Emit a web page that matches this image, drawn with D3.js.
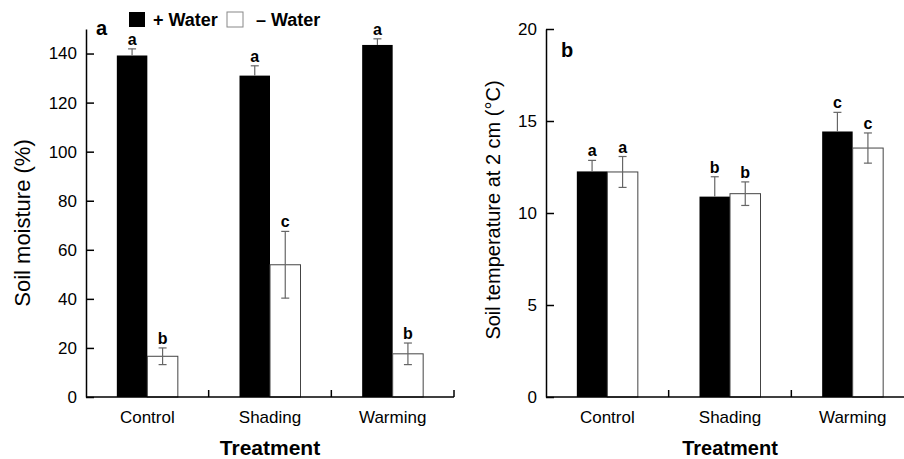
<!DOCTYPE html>
<html>
<head>
<meta charset="utf-8">
<script src="https://cdn.jsdelivr.net/npm/d3@7"></script>
<style>
  body { margin: 0; background: #fff; }
  svg { display: block; font-family: "Liberation Sans", Arial, sans-serif; }
  .axis path, .axis line { stroke: #000; stroke-width: 1.5; }
  .axis text { font-size: 17px; fill: #000; }
</style>
</head>
<body>
<svg class="chart" width="904" height="459"></svg>
<script>
var categories = ["Control", "Shading", "Warming"];
var seriesKeys = ["+ Water", "\u2013 Water"];

// panel a: soil moisture (%)
var moistWet = [139.2, 131, 143.5];
var moistWetSe = [2.7, 4, 2.5];
var moistDry = [16.6, 53.9, 17.6];
var moistDrySe = [3.4, 13.6, 4.4];
var moistWetLetters = ["a", "a", "a"];
var moistDryLetters = ["b", "c", "b"];
var moistTicks = [0, 20, 40, 60, 80, 100, 120, 140];

// panel b: soil temperature at 2 cm
var tempWet = [12.26, 10.89, 14.43];
var tempWetSe = [0.6, 1.08, 1.04];
var tempDry = [12.23, 11.05, 13.53];
var tempDrySe = [0.84, 0.64, 0.82];
var tempWetLetters = ["a", "b", "c"];
var tempDryLetters = ["a", "b", "c"];
var tempTicks = [0, 5, 10, 15, 20];

var svg = d3.select(".chart");
var fills = d3.scaleOrdinal().domain(seriesKeys).range(["#000", "#fff"]);

function drawPanel(opt) {
  var g = svg.append("g");
  var y = d3.scaleLinear().domain([0, opt.ymax]).range([397, 29]);
  var x0 = d3.scaleBand().domain(categories).range([opt.left, opt.left + 368]);
  var bw = x0.bandwidth();
  var x1 = d3.scaleBand().domain(seriesKeys).range([(bw - 61) / 2, (bw + 61) / 2]);

  var rows = categories.map(function (c, i) {
    return [
      { cat: c, key: seriesKeys[0], v: opt.wet[i], se: opt.wetSe[i], l: opt.wetL[i] },
      { cat: c, key: seriesKeys[1], v: opt.dry[i], se: opt.drySe[i], l: opt.dryL[i] }
    ];
  });
  var flat = d3.merge(rows);

  // bars
  g.selectAll("rect.bar")
    .data(flat)
    .enter()
    .append("rect")
    .attr("class", "bar")
    .attr("x", function (d) { return x0(d.cat) + x1(d.key); })
    .attr("width", x1.bandwidth())
    .attr("y", function (d) { return y(d.v); })
    .attr("height", function (d) { return y(0) - y(d.v); })
    .attr("fill", function (d) { return fills(d.key); })
    .attr("stroke", function (d) { return d.key === seriesKeys[0] ? "none" : "#444"; })
    .attr("stroke-width", 1);

  // error bars (lower half hidden inside black bars)
  var eb = g.selectAll("g.err")
    .data(flat)
    .enter()
    .append("g")
    .attr("class", "err")
    .attr("stroke", "#666")
    .attr("stroke-width", 1.2);
  eb.append("line")
    .attr("x1", function (d) { return x0(d.cat) + x1(d.key) + x1.bandwidth() / 2; })
    .attr("x2", function (d) { return x0(d.cat) + x1(d.key) + x1.bandwidth() / 2; })
    .attr("y1", function (d) { return d.key === seriesKeys[0] ? y(d.v) : y(d.v - d.se); })
    .attr("y2", function (d) { return y(d.v + d.se); });
  eb.append("line")
    .attr("x1", function (d) { return x0(d.cat) + x1(d.key) + x1.bandwidth() / 2 - 4; })
    .attr("x2", function (d) { return x0(d.cat) + x1(d.key) + x1.bandwidth() / 2 + 4; })
    .attr("y1", function (d) { return y(d.v + d.se); })
    .attr("y2", function (d) { return y(d.v + d.se); });
  eb.filter(function (d) { return d.key !== seriesKeys[0]; })
    .append("line")
    .attr("x1", function (d) { return x0(d.cat) + x1(d.key) + x1.bandwidth() / 2 - 4; })
    .attr("x2", function (d) { return x0(d.cat) + x1(d.key) + x1.bandwidth() / 2 + 4; })
    .attr("y1", function (d) { return y(d.v - d.se); })
    .attr("y2", function (d) { return y(d.v - d.se); });

  // significance letters
  g.selectAll("text.sig")
    .data(flat)
    .enter()
    .append("text")
    .attr("class", "sig")
    .attr("x", function (d) { return x0(d.cat) + x1(d.key) + x1.bandwidth() / 2; })
    .attr("y", function (d) { return y(d.v + d.se) - 4; })
    .attr("text-anchor", "middle")
    .attr("font-size", 16)
    .attr("font-weight", "bold")
    .text(function (d) { return d.l; });

  // y axis, ticks pointing inward
  g.append("g")
    .attr("class", "axis")
    .attr("transform", "translate(" + opt.left + ",0)")
    .call(d3.axisLeft(y).tickValues(opt.ticks).tickSizeInner(-8).tickSizeOuter(0).tickPadding(9));

  // x axis line with upward ticks at group boundaries
  var xa = g.append("g").attr("class", "axis");
  xa.append("line")
    .attr("x1", opt.left).attr("x2", opt.left + 368)
    .attr("y1", y(0)).attr("y2", y(0));
  xa.selectAll("line.tk")
    .data(categories)
    .enter()
    .append("line")
    .attr("class", "tk")
    .attr("x1", function (d) { return x0(d) + bw; })
    .attr("x2", function (d) { return x0(d) + bw; })
    .attr("y1", y(0)).attr("y2", y(0) - 7);
  xa.selectAll("text")
    .data(categories)
    .enter()
    .append("text")
    .attr("x", function (d) { return x0(d) + bw / 2; })
    .attr("y", 423)
    .attr("text-anchor", "middle")
    .attr("font-size", 19)
    .text(function (d) { return d; });

  g.append("text")
    .attr("x", opt.left + 184)
    .attr("y", 455)
    .attr("text-anchor", "middle")
    .attr("font-size", opt.xtSize)
    .attr("font-weight", "bold")
    .text("Treatment");

  g.append("text")
    .attr("transform", "translate(" + opt.ytX + "," + opt.ytY + ") rotate(-90)")
    .attr("text-anchor", "middle")
    .attr("font-size", opt.ytSize)
    .text(opt.ytitle);

  g.append("text")
    .attr("x", opt.labX)
    .attr("y", opt.labY)
    .attr("font-size", 20)
    .attr("font-weight", "bold")
    .text(opt.label);
}

drawPanel({
  left: 86, ymax: 150, ticks: moistTicks,
  wet: moistWet, wetSe: moistWetSe, dry: moistDry, drySe: moistDrySe,
  wetL: moistWetLetters, dryL: moistDryLetters,
  ytitle: "Soil moisture (%)", ytX: 30, ytY: 223, ytSize: 22,
  xtSize: 21, label: "a", labX: 96, labY: 35
});

drawPanel({
  left: 546, ymax: 20, ticks: tempTicks,
  wet: tempWet, wetSe: tempWetSe, dry: tempDry, drySe: tempDrySe,
  wetL: tempWetLetters, dryL: tempDryLetters,
  ytitle: "Soil temperature at 2 cm (\u00B0C)", ytX: 500, ytY: 210, ytSize: 20,
  xtSize: 20, label: "b", labX: 561, labY: 57
});

// legend
var legend = svg.append("g")
  .attr("font-size", 18)
  .attr("font-weight", "bold")
  .selectAll("g")
  .data(seriesKeys)
  .enter()
  .append("g")
  .attr("transform", function (d, i) { return "translate(" + (129 + i * 98) + ",12)"; });

legend.append("rect")
  .attr("width", 16)
  .attr("height", 15)
  .attr("fill", fills)
  .attr("stroke", function (d, i) { return i ? "#888" : "none"; });

legend.append("text")
  .attr("x", function (d, i) { return i ? 29 : 24; })
  .attr("y", 14)
  .text(function (d) { return d; });
</script>
</body>
</html>
